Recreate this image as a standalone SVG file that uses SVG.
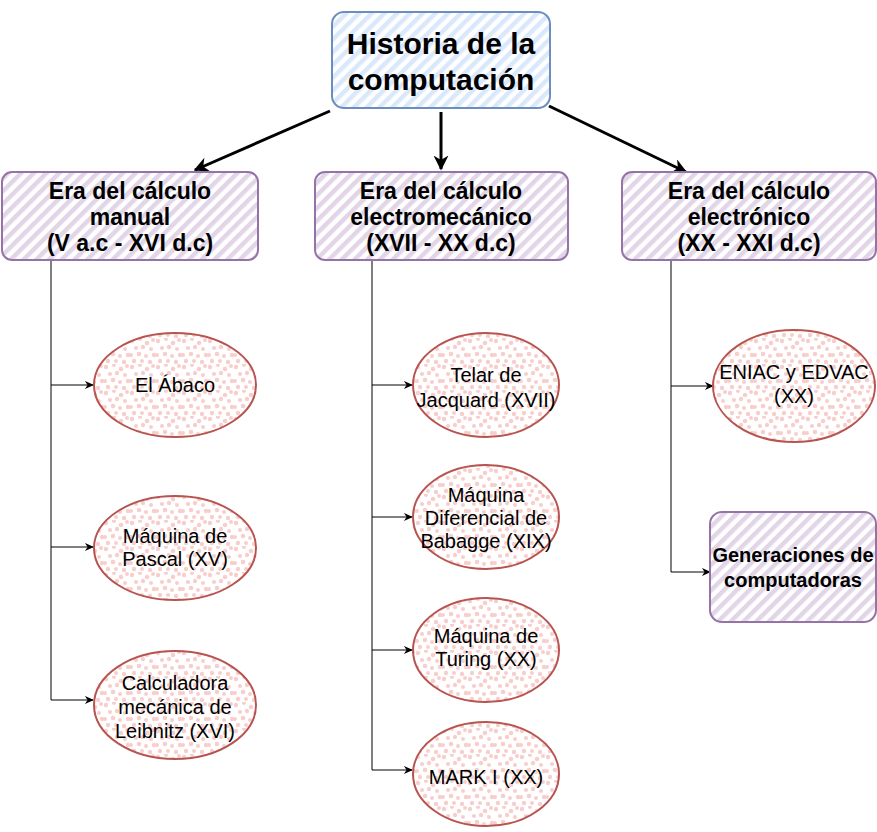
<svg xmlns="http://www.w3.org/2000/svg" width="877" height="832" viewBox="0 0 877 832">
<defs>
<pattern id="hb" width="9" height="9" patternUnits="userSpaceOnUse" patternTransform="rotate(45)">
<rect x="0" y="0" width="4.5" height="9" fill="#dae8fc"/>
</pattern>
<pattern id="hp" width="9" height="9" patternUnits="userSpaceOnUse" patternTransform="rotate(45)">
<rect x="0" y="0" width="4.5" height="9" fill="#e1d5e7"/>
</pattern>
<pattern id="dots" width="26" height="26" patternUnits="userSpaceOnUse">
<g fill="#f8cecc">
<circle cx="2" cy="3" r="2.2"/><circle cx="10" cy="1" r="2"/><circle cx="17" cy="5" r="2.3"/><circle cx="23" cy="2" r="2"/>
<circle cx="6" cy="10" r="2.1"/><circle cx="13" cy="9" r="2.2"/><circle cx="21" cy="11" r="2"/>
<circle cx="1" cy="17" r="2"/><circle cx="9" cy="16" r="2.3"/><circle cx="16" cy="18" r="2"/><circle cx="24" cy="17" r="2.2"/>
<circle cx="4" cy="23" r="2.2"/><circle cx="12" cy="23" r="2"/><circle cx="20" cy="24" r="2.2"/>
</g>
</pattern>
<marker id="abig" viewBox="0 0 10 10" refX="9" refY="5" markerWidth="5" markerHeight="5" orient="auto">
<path d="M0,0 L10,5 L0,10 L3,5 Z" fill="#000"/>
</marker>
<marker id="asm" viewBox="0 0 10 10" refX="9" refY="5" markerWidth="10" markerHeight="9" orient="auto" markerUnits="userSpaceOnUse">
<path d="M0,0.5 L10,5 L0,9.5 L3,5 Z" fill="#000"/>
</marker>
</defs>
<style>
.root{fill:url(#hb);stroke:#6c8ebf;stroke-width:2}
.era{fill:url(#hp);stroke:#9673a6;stroke-width:2}
.ell{fill:url(#dots);stroke:#b85450;stroke-width:2}
.tb{font-family:"Liberation Sans",Arial,sans-serif;font-weight:bold;text-anchor:middle;fill:#000}
.tn{font-family:"Liberation Sans",Arial,sans-serif;font-size:20px;text-anchor:middle;fill:#000}
.c1{fill:none;stroke:#000;stroke-width:3}
.c2{fill:none;stroke:#000;stroke-width:1}
</style>
<g id="connectors">
<line class="c1" x1="330" y1="111" x2="195" y2="170" marker-end="url(#abig)"/>
<line class="c1" x1="441" y1="112" x2="441" y2="169" marker-end="url(#abig)"/>
<line class="c1" x1="549" y1="106" x2="686" y2="172" marker-end="url(#abig)"/>
<path class="c2" d="M51,260 V700"/>
<line class="c2" x1="51" y1="385" x2="93" y2="385" marker-end="url(#asm)"/>
<line class="c2" x1="51" y1="547" x2="93" y2="547" marker-end="url(#asm)"/>
<path class="c2" d="M51,700 H93" marker-end="url(#asm)"/>
<path class="c2" d="M372,260 V770"/>
<line class="c2" x1="372" y1="385" x2="412" y2="385" marker-end="url(#asm)"/>
<line class="c2" x1="372" y1="517" x2="412" y2="517" marker-end="url(#asm)"/>
<line class="c2" x1="372" y1="650" x2="412" y2="650" marker-end="url(#asm)"/>
<path class="c2" d="M372,770 H412" marker-end="url(#asm)"/>
<path class="c2" d="M671,260 V572"/>
<line class="c2" x1="671" y1="386" x2="713" y2="386" marker-end="url(#asm)"/>
<path class="c2" d="M671,572 H710" marker-end="url(#asm)"/>
</g>
<g id="root">
<rect class="root" x="332" y="12" width="218" height="96" rx="12"/>
<text class="tb" font-size="30" x="441" y="54">Historia de la</text>
<text class="tb" font-size="30" x="441" y="90">computación</text>
</g>
<g id="era-manual">
<rect class="era" x="2" y="172" width="256" height="88" rx="10"/>
<text class="tb" font-size="23" x="130" y="199">Era del cálculo</text>
<text class="tb" font-size="23" x="130" y="225">manual</text>
<text class="tb" font-size="23" x="130" y="251">(V a.c - XVI d.c)</text>
</g>
<g id="era-electromecanico">
<rect class="era" x="315" y="172" width="253" height="88" rx="10"/>
<text class="tb" font-size="23" x="441" y="199">Era del cálculo</text>
<text class="tb" font-size="23" x="441" y="225">electromecánico</text>
<text class="tb" font-size="23" x="441" y="251">(XVII - XX d.c)</text>
</g>
<g id="era-electronico">
<rect class="era" x="622" y="172" width="254" height="88" rx="10"/>
<text class="tb" font-size="23" x="749" y="199">Era del cálculo</text>
<text class="tb" font-size="23" x="749" y="225">electrónico</text>
<text class="tb" font-size="23" x="749" y="251">(XX - XXI d.c)</text>
</g>
<g id="abaco">
<ellipse class="ell" cx="175" cy="385" rx="81" ry="52"/>
<text class="tn" x="175" y="392">El Ábaco</text>
</g>
<g id="pascal">
<ellipse class="ell" cx="175" cy="548" rx="81" ry="52"/>
<text class="tn" x="175" y="543">Máquina de</text>
<text class="tn" x="175" y="566">Pascal (XV)</text>
</g>
<g id="leibnitz">
<ellipse class="ell" cx="175" cy="705" rx="81" ry="54"/>
<text class="tn" x="175" y="690">Calculadora</text>
<text class="tn" x="175" y="714">mecánica de</text>
<text class="tn" x="175" y="738">Leibnitz (XVI)</text>
</g>
<g id="jacquard">
<ellipse class="ell" cx="486" cy="385" rx="73" ry="52"/>
<text class="tn" x="486" y="382">Telar de</text>
<text class="tn" x="486" y="407">Jacquard (XVII)</text>
</g>
<g id="diferencial">
<ellipse class="ell" cx="486" cy="517" rx="73" ry="52"/>
<text class="tn" x="486" y="502">Máquina</text>
<text class="tn" x="486" y="525">Diferencial de</text>
<text class="tn" x="486" y="548">Babagge (XIX)</text>
</g>
<g id="turing">
<ellipse class="ell" cx="486" cy="650" rx="73" ry="52"/>
<text class="tn" x="486" y="643">Máquina de</text>
<text class="tn" x="486" y="666">Turing (XX)</text>
</g>
<g id="mark">
<ellipse class="ell" cx="486" cy="774" rx="73" ry="52"/>
<text class="tn" x="486" y="784">MARK I (XX)</text>
</g>
<g id="eniac">
<ellipse class="ell" cx="794" cy="386" rx="81" ry="56"/>
<text class="tn" x="794" y="379">ENIAC y EDVAC</text>
<text class="tn" x="794" y="403">(XX)</text>
</g>
<g id="generaciones">
<rect class="era" x="710" y="512" width="166" height="110" rx="12"/>
<text class="tb" font-size="20" x="793" y="562">Generaciones de</text>
<text class="tb" font-size="20" x="793" y="587">computadoras</text>
</g>
</svg>
